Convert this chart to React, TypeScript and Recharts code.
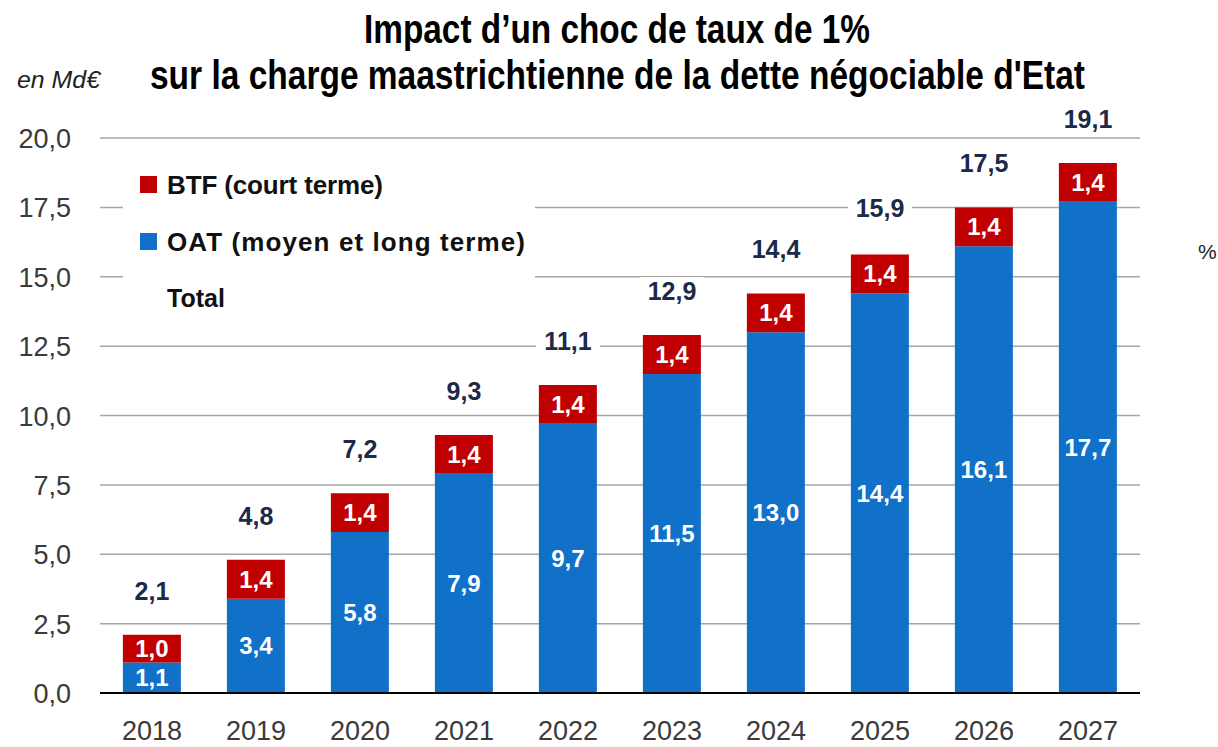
import React from 'react';
import {
  ComposedChart,
  Bar,
  Line,
  XAxis,
  YAxis,
  CartesianGrid,
  Legend,
  LabelList,
} from 'recharts';

const years = ['2018', '2019', '2020', '2021', '2022', '2023', '2024', '2025', '2026', '2027'];
const oatValues = [1.1, 3.4, 5.8, 7.9, 9.7, 11.5, 13.0, 14.4, 16.1, 17.7];
const btfValues = [1.0, 1.4, 1.4, 1.4, 1.4, 1.4, 1.4, 1.4, 1.4, 1.4];
const totalValues = [2.1, 4.8, 7.2, 9.3, 11.1, 12.9, 14.4, 15.9, 17.5, 19.1];
const yTicks = [0, 2.5, 5, 7.5, 10, 12.5, 15, 17.5, 20];

const seriesNames = {
  btf: 'BTF (court terme)',
  oat: 'OAT (moyen et long terme)',
  total: 'Total',
};

const RED = '#c00000';
const BLUE = '#1170c8';
const NAVY = '#1b2a48';
const FONT = '"Liberation Sans", Arial, sans-serif';
const NARROW = '"Liberation Sans Narrow", "Arial Narrow", "Liberation Sans", Arial, sans-serif';
// horizontal squeeze for the condensed title
const SQ = 0.8;

const data = years.map((year, i) => ({
  year,
  oat: oatValues[i],
  btf: btfValues[i],
  total: totalValues[i],
}));

const fmt = (v: number) => v.toFixed(1).replace('.', ',');

function YTick(props: any) {
  const { x, y, payload } = props;
  return (
    <text x={x - 29} y={y + 10} textAnchor="end" fontFamily={FONT} fontSize={27} fill="#3a3a3a">
      {fmt(payload.value)}
    </text>
  );
}

function XTick(props: any) {
  const { x, y, payload } = props;
  return (
    <text x={x} y={y + 47} textAnchor="middle" fontFamily={FONT} fontSize={27} fill="#3a3a3a">
      {payload.value}
    </text>
  );
}

function InsideLabel(props: any) {
  const { x, y, width, height, value } = props;
  return (
    <text
      x={x + width / 2}
      y={y + height / 2 + 8.5}
      textAnchor="middle"
      fontFamily={FONT}
      fontWeight="bold"
      fontSize={24}
      fill="#ffffff"
    >
      {fmt(value)}
    </text>
  );
}

function TotalLabel(props: any) {
  const vb = props.viewBox || {};
  const x = props.x ?? vb.x;
  const y = props.y ?? vb.y;
  return (
    <g>
      <rect x={x - 32} y={y - 58} width={64} height={30} fill="#fff" />
      <text x={x} y={y - 35} textAnchor="middle" fontFamily={FONT} fontWeight="bold" fontSize={25} fill={NAVY}>
        {fmt(props.value)}
      </text>
    </g>
  );
}

function ChartLegend() {
  return (
    <svg width={412} height={175} style={{ display: 'block', background: '#fff' }}>
      <rect x={17} y={26} width={17} height={17} fill={RED} />
      <text x={44} y={44} fontFamily={FONT} fontWeight="bold" fontSize={26} fill="#111" textLength={216} lengthAdjust="spacing">
        {seriesNames.btf}
      </text>
      <rect x={17} y={83} width={17} height={17} fill={BLUE} />
      <text x={44} y={101} fontFamily={FONT} fontWeight="bold" fontSize={26} fill="#111" textLength={358} lengthAdjust="spacing">
        {seriesNames.oat}
      </text>
      <text x={44} y={157} fontFamily={FONT} fontWeight="bold" fontSize={25} fill="#111">
        {seriesNames.total}
      </text>
    </svg>
  );
}

export default function App() {
  return (
    <div style={{ position: 'absolute', left: 0, top: 0, width: 1218, height: 747, background: '#fff' }}>
      <ComposedChart
        width={1218}
        height={747}
        data={data}
        margin={{ top: 138, right: 78, bottom: 0, left: 0 }}
        barCategoryGap="22%"
      >
        <CartesianGrid vertical={false} stroke="#a6a6a6" strokeWidth={1.5} />
        <XAxis
          dataKey="year"
          height={54}
          tickSize={0}
          tickMargin={0}
          tickLine={false}
          axisLine={{ stroke: '#000', strokeWidth: 2 }}
          tick={<XTick />}
          interval={0}
        />
        <YAxis
          width={100}
          domain={[0, 20]}
          ticks={yTicks}
          tickSize={0}
          tickMargin={0}
          tickLine={false}
          axisLine={false}
          tick={<YTick />}
          interval={0}
        />
        <Legend
          layout="vertical"
          align="center"
          verticalAlign="middle"
          wrapperStyle={{ left: 123, top: 150, width: 412, height: 175 }}
          content={() => <ChartLegend />}
        />
        <Bar dataKey="oat" name={seriesNames.oat} stackId="a" fill={BLUE} isAnimationActive={false}>
          <LabelList dataKey="oat" content={<InsideLabel />} />
        </Bar>
        <Bar dataKey="btf" name={seriesNames.btf} stackId="a" fill={RED} isAnimationActive={false}>
          <LabelList dataKey="btf" content={<InsideLabel />} />
        </Bar>
        <Line
          dataKey="total"
          name={seriesNames.total}
          stroke="none"
          dot={false}
          activeDot={false}
          legendType="none"
          isAnimationActive={false}
        >
          <LabelList dataKey="total" content={<TotalLabel />} />
        </Line>
      </ComposedChart>
      <svg
        width={1218}
        height={130}
        style={{ position: 'absolute', left: 0, top: 0, pointerEvents: 'none' }}
      >
        <text
          transform={`scale(${SQ},1)`}
          x={364 / SQ}
          y={43}
          fontFamily={NARROW}
          fontWeight="bold"
          fontSize={40}
          fill="#000"
          textLength={506 / SQ}
          lengthAdjust="spacingAndGlyphs"
        >
          Impact d’un choc de taux de 1%
        </text>
        <text
          transform={`scale(${SQ},1)`}
          x={150 / SQ}
          y={89}
          fontFamily={NARROW}
          fontWeight="bold"
          fontSize={40}
          fill="#000"
          textLength={935 / SQ}
          lengthAdjust="spacingAndGlyphs"
        >
          sur la charge maastrichtienne de la dette négociable d'Etat
        </text>
        <text x={17} y={88} fontFamily={FONT} fontStyle="italic" fontSize={23} fill="#222" textLength={83} lengthAdjust="spacingAndGlyphs">
          en Md€
        </text>
      </svg>
      <svg
        width={30}
        height={30}
        style={{ position: 'absolute', left: 1195, top: 238, pointerEvents: 'none' }}
      >
        <text x={3} y={21} fontFamily={FONT} fontSize={21} fill="#222">%</text>
      </svg>
    </div>
  );
}
